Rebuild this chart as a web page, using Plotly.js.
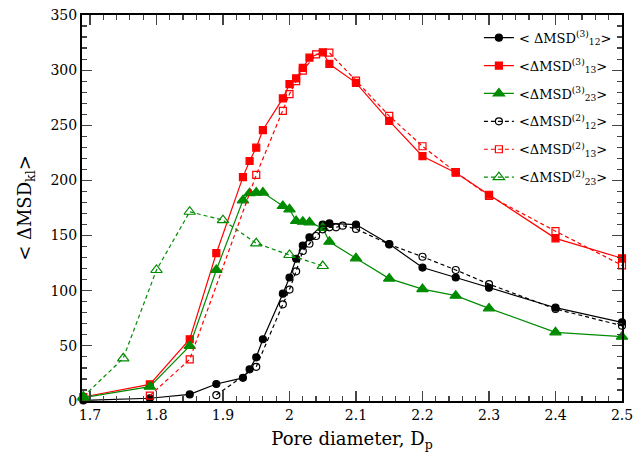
<!DOCTYPE html>
<html>
<head>
<meta charset="utf-8">
<script src="https://cdn.plot.ly/plotly-3.0.1.min.js"></script>
<style>html,body{margin:0;padding:0;background:#fff;}#chart{width:633px;height:475px;}</style>
</head>
<body>
<div id="chart"></div>
<script>
// <ΔMSD(3)12> black filled circles, solid
const x3_12 = [1.69, 1.79, 1.85, 1.89, 1.93, 1.94, 1.95, 1.96, 1.99, 2.00, 2.01, 2.02, 2.03, 2.05, 2.06, 2.10, 2.15, 2.20, 2.25, 2.30, 2.40, 2.50];
const y3_12 = [0.5, 2.5, 6, 15.4, 21, 28.7, 39.6, 56, 97.3, 112, 129, 141, 148.4, 160, 161, 160, 142.3, 121, 112, 102.7, 84.6, 71.3];
// <ΔMSD(3)13> red filled squares, solid
const x3_13 = [1.69, 1.79, 1.85, 1.89, 1.93, 1.94, 1.95, 1.96, 1.99, 2.00, 2.01, 2.02, 2.03, 2.05, 2.06, 2.10, 2.15, 2.20, 2.25, 2.30, 2.40, 2.50];
const y3_13 = [3.6, 15, 56, 134, 203, 217.6, 229.7, 245.7, 274.4, 287.4, 292.6, 302, 311.3, 316.2, 305.6, 288.5, 254, 222, 207, 187, 147.5, 129.4];
// <ΔMSD(3)23> green filled triangles, solid
const x3_23 = [1.69, 1.79, 1.85, 1.89, 1.93, 1.94, 1.95, 1.96, 1.99, 2.00, 2.01, 2.02, 2.03, 2.05, 2.06, 2.10, 2.15, 2.20, 2.25, 2.30, 2.40, 2.50];
const y3_23 = [3, 13, 50, 118.8, 182, 188.5, 189, 189, 176.8, 173.8, 163.2, 162.6, 162, 157, 144.4, 129.4, 111, 101.5, 95.5, 84, 62.3, 58.3];
// <ΔMSD(2)12> black open circles, dashed
const x2_12 = [1.89, 1.95, 1.99, 2.00, 2.01, 2.02, 2.03, 2.04, 2.05, 2.06, 2.07, 2.08, 2.10, 2.15, 2.20, 2.25, 2.30, 2.40, 2.50];
const y2_12 = [5.4, 31, 87.7, 101, 117.6, 136, 142.6, 149.6, 155.7, 157.5, 157.5, 159, 156, 142, 130.8, 118.8, 106, 83.4, 68.3];
// <ΔMSD(2)13> red open squares, dashed
const x2_13 = [1.79, 1.85, 1.95, 1.99, 2.00, 2.01, 2.02, 2.04, 2.06, 2.10, 2.15, 2.20, 2.25, 2.30, 2.40, 2.50];
const y2_13 = [4.8, 37.8, 205, 263, 278.3, 290, 299.5, 314.3, 315.8, 290.5, 258.5, 231, 207.5, 186, 154, 123];
// <ΔMSD(2)23> green open triangles, dashed
const x2_23 = [1.69, 1.75, 1.80, 1.85, 1.90, 1.95, 2.00, 2.05];
const y2_23 = [4, 38.7, 118.8, 171.6, 164, 143, 132.4, 122.4];

const names = [
  "&lt; ΔMSD<sup>(3)</sup><sub>12</sub>&gt;",
  "&lt;ΔMSD<sup>(3)</sup><sub>13</sub>&gt;",
  "&lt;ΔMSD<sup>(3)</sup><sub>23</sub>&gt;",
  "&lt;ΔMSD<sup>(2)</sup><sub>12</sub>&gt;",
  "&lt;ΔMSD<sup>(2)</sup><sub>13</sub>&gt;",
  "&lt;ΔMSD<sup>(2)</sup><sub>23</sub>&gt;"
];

const BLACK = "#000000", RED = "#ff0000", GREEN = "#008b00";

function tr(x, y, name, color, symbol, size, dash, group) {
  return {
    x: x, y: y, name: name, type: "scatter", mode: "lines+markers", cliponaxis: false,
    legendgroup: group,
    line: {color: color, width: 1.2, dash: dash},
    marker: {color: color, symbol: symbol, size: size, line: {color: color, width: 1.2}}
  };
}

const data = [
  tr(x3_12, y3_12, names[0], BLACK, "circle", 7, "solid", "a"),
  tr(x3_13, y3_13, names[1], RED, "square", 7, "solid", "b"),
  tr(x3_23, y3_23, names[2], GREEN, "triangle-up", 10, "solid", "c"),
  tr(x2_12, y2_12, names[3], BLACK, "circle-open", 7, "4px,3px", "d"),
  tr(x2_13, y2_13, names[4], RED, "square-open", 7, "4px,3px", "e"),
  tr(x2_23, y2_23, names[5], GREEN, "triangle-up-open", 10, "4px,3px", "f")
];

const FONT = "DejaVu Serif";

const layout = {
  width: 633, height: 475,
  margin: {l: 82, r: 11, t: 15, b: 74, pad: 0},
  paper_bgcolor: "#fff", plot_bgcolor: "#fff",
  font: {family: FONT, size: 14, color: "#000"},
  showlegend: true,
  legend: {x: 0.735, y: 0.98, xanchor: "left", yanchor: "top", bgcolor: "rgba(0,0,0,0)",
           font: {family: FONT, size: 13}, tracegroupgap: 8, itemwidth: 30},
  xaxis: {
    range: [1.688, 2.5], tick0: 1.7, dtick: 0.1, ticks: "inside", ticklen: 10, tickwidth: 1.2,
    showline: true, linewidth: 2, linecolor: "#000", mirror: "allticks", showgrid: false, zeroline: false,
    ticklabeloverflow: "allow",
    minor: {ticks: "inside", ticklen: 5, tickwidth: 1.2, dtick: 0.02, tick0: 1.7, showgrid: false},
    tickfont: {family: FONT, size: 14},
    title: {text: "Pore diameter, D<sub>p</sub>", font: {family: FONT, size: 18}, standoff: 11}
  },
  yaxis: {
    range: [0, 350], tick0: 0, dtick: 50, ticks: "inside", ticklen: 10, tickwidth: 1.2,
    showline: true, linewidth: 2, linecolor: "#000", mirror: "allticks", showgrid: false, zeroline: false,
    ticklabeloverflow: "allow",
    minor: {ticks: "inside", ticklen: 5, tickwidth: 1.2, dtick: 10, showgrid: false},
    tickfont: {family: FONT, size: 14},
    title: {text: "&lt; ΔMSD<sub>kl</sub>&gt;", font: {family: FONT, size: 18}, standoff: 14}
  }
};

Plotly.newPlot("chart", data, layout, {displayModeBar: false, staticPlot: true});
</script>
</body>
</html>
